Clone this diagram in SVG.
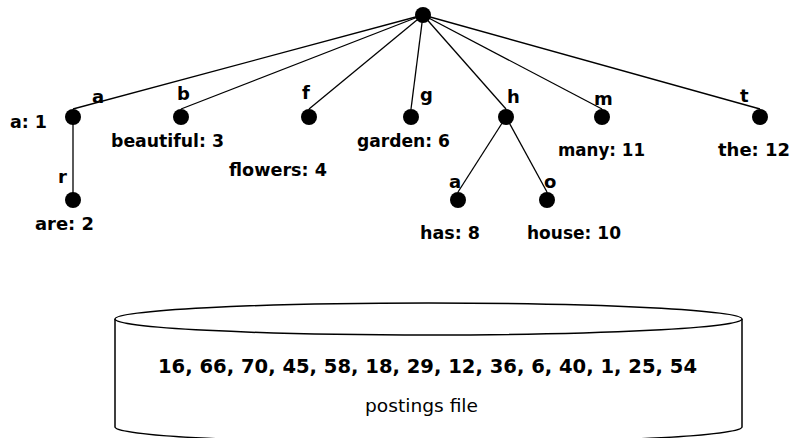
<svg xmlns="http://www.w3.org/2000/svg" width="792" height="438" viewBox="0 0 792 438">
  <style>
    .edge { stroke: #000; stroke-width: 1.3; fill: none; }
    .dot { fill: #000; }
    .term { font-family: "DejaVu Sans", "Liberation Sans", sans-serif; font-weight: bold; font-size: 18px; fill: #000; }
    .letter { font-family: "DejaVu Sans", "Liberation Sans", sans-serif; font-weight: bold; font-size: 18px; fill: #000; }
    .disk { stroke: #000; stroke-width: 1.5; fill: #fff; }
    .postings { font-family: "DejaVu Sans", "Liberation Sans", sans-serif; font-weight: bold; font-size: 19px; fill: #000; }
    .caption { font-family: "DejaVu Sans", "Liberation Sans", sans-serif; font-size: 18px; fill: #000; }
  </style>

  <!-- trie edges -->
  <g id="connectors">
    <line class="edge" x1="423" y1="15" x2="73" y2="109"/>
    <line class="edge" x1="423" y1="15" x2="181" y2="109"/>
    <line class="edge" x1="423" y1="15" x2="309" y2="109"/>
    <line class="edge" x1="423" y1="15" x2="411" y2="109"/>
    <line class="edge" x1="423" y1="15" x2="506" y2="109"/>
    <line class="edge" x1="423" y1="15" x2="602" y2="109"/>
    <line class="edge" x1="423" y1="15" x2="760" y2="109"/>
    <line class="edge" x1="73" y1="117" x2="73" y2="200"/>
    <line class="edge" x1="506" y1="117" x2="458" y2="192"/>
    <line class="edge" x1="506" y1="117" x2="547" y2="192"/>
    <text class="letter" x="92" y="103">a</text>
    <text class="letter" x="177" y="100">b</text>
    <text class="letter" x="302" y="99">f</text>
    <text class="letter" x="420" y="101">g</text>
    <text class="letter" x="507" y="103">h</text>
    <text class="letter" x="594" y="105">m</text>
    <text class="letter" x="740" y="102">t</text>
    <text class="letter" x="58" y="183">r</text>
    <text class="letter" x="449" y="188">a</text>
    <text class="letter" x="544" y="188">o</text>
  </g>

  <!-- trie nodes -->
  <g id="root"><circle class="dot" cx="423" cy="15" r="8"/></g>
  <g id="node-a">
    <circle class="dot" cx="73" cy="117" r="8"/>
    <text class="term" x="10" y="128" textLength="37" lengthAdjust="spacingAndGlyphs">a: 1</text>
  </g>
  <g id="node-ar">
    <circle class="dot" cx="73" cy="200" r="8"/>
    <text class="term" x="35" y="230" textLength="59" lengthAdjust="spacingAndGlyphs">are: 2</text>
  </g>
  <g id="node-b">
    <circle class="dot" cx="181" cy="117" r="8"/>
    <text class="term" x="111" y="147" textLength="113" lengthAdjust="spacingAndGlyphs">beautiful: 3</text>
  </g>
  <g id="node-f">
    <circle class="dot" cx="309" cy="117" r="8"/>
    <text class="term" x="229" y="176" textLength="98" lengthAdjust="spacingAndGlyphs">flowers: 4</text>
  </g>
  <g id="node-g">
    <circle class="dot" cx="411" cy="117" r="8"/>
    <text class="term" x="357" y="147" textLength="93" lengthAdjust="spacingAndGlyphs">garden: 6</text>
  </g>
  <g id="node-h"><circle class="dot" cx="506" cy="117" r="8"/></g>
  <g id="node-ha">
    <circle class="dot" cx="458" cy="200" r="8"/>
    <text class="term" x="420" y="239" textLength="60" lengthAdjust="spacingAndGlyphs">has: 8</text>
  </g>
  <g id="node-ho">
    <circle class="dot" cx="547" cy="200" r="8"/>
    <text class="term" x="527" y="239" textLength="94" lengthAdjust="spacingAndGlyphs">house: 10</text>
  </g>
  <g id="node-m">
    <circle class="dot" cx="602" cy="117" r="8"/>
    <text class="term" x="558" y="156" textLength="87" lengthAdjust="spacingAndGlyphs">many: 11</text>
  </g>
  <g id="node-t">
    <circle class="dot" cx="760" cy="117" r="8"/>
    <text class="term" x="718" y="156" textLength="72" lengthAdjust="spacingAndGlyphs">the: 12</text>
  </g>

  <!-- postings file drum -->
  <g id="postings-file">
    <path class="disk" d="M115,319 L115,427 A313.5,16 0 0 0 742,427 L742,319"/>
    <ellipse class="disk" cx="428.5" cy="319" rx="313.5" ry="16"/>
    <text class="postings" x="158" y="373" textLength="539" lengthAdjust="spacingAndGlyphs">16, 66, 70, 45, 58, 18, 29, 12, 36, 6, 40, 1, 25, 54</text>
    <text class="caption" x="365" y="412" textLength="113" lengthAdjust="spacingAndGlyphs">postings file</text>
  </g>
</svg>
